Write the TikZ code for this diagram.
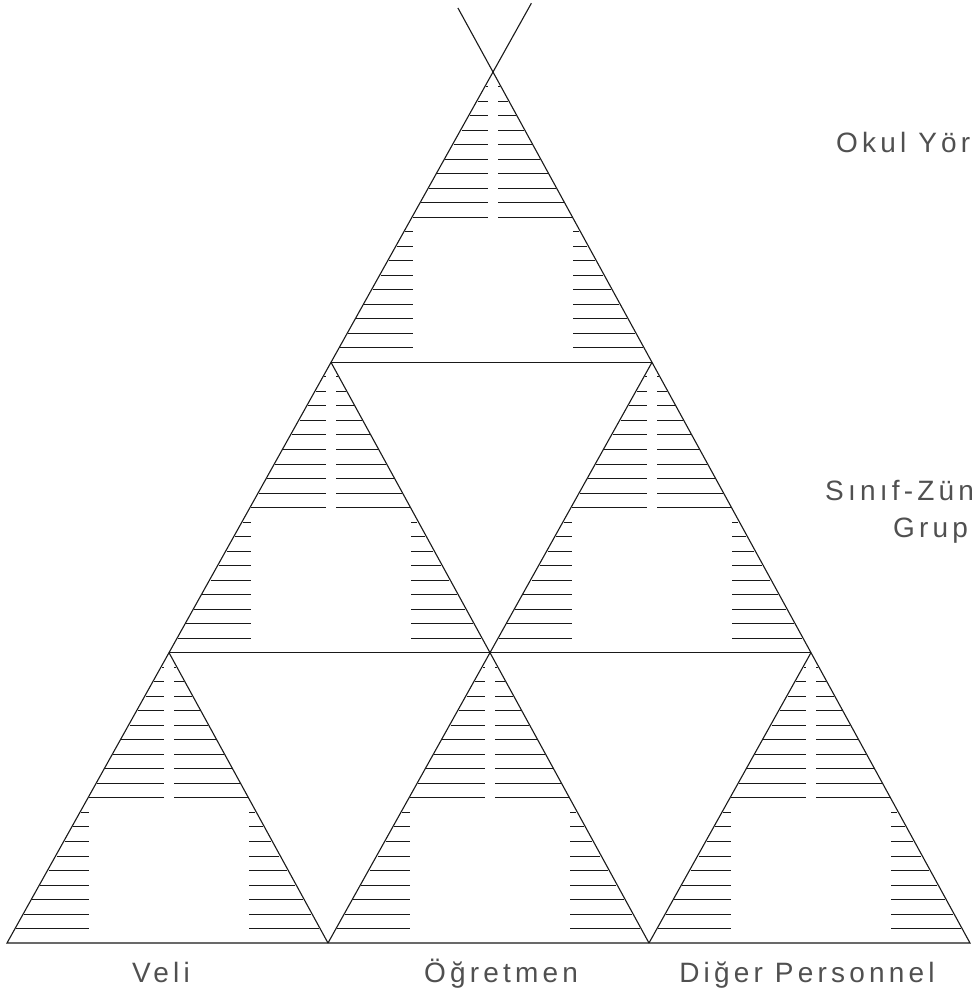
\documentclass[tikz,border=0pt]{standalone}
\usepackage{fontspec}
\usepackage{tikz}
\usetikzlibrary{calc}
\newfontfamily\labelfont[LetterSpace=15]{Liberation Sans}
\definecolor{ink}{RGB}{25, 25, 25}
\definecolor{print}{RGB}{80, 80, 80}

\begin{document}
\begin{tikzpicture}[x=1pt, y=-1pt,
    edge/.style={ink, line width=1.1pt},
    hatch/.style={ink, line width=0.8pt},
    lbl/.style={font=\labelfont\fontsize{28}{32}\selectfont, text=print, inner sep=0pt}]
  \useasboundingbox (0,0) rectangle (973,997);
  \coordinate (apex) at (493,72);
  \coordinate (bl) at (7,943);
  \coordinate (br) at (970,943);
  \coordinate (l1) at ($(apex)!1/3!(bl)$);
  \coordinate (l2) at ($(apex)!2/3!(bl)$);
  \coordinate (r1) at ($(apex)!1/3!(br)$);
  \coordinate (r2) at ($(apex)!2/3!(br)$);
  \coordinate (b1) at ($(bl)!1/3!(br)$);
  \coordinate (b2) at ($(bl)!2/3!(br)$);
  % outline, the two sides cross above the apex
  \draw[edge] ($(bl)!1.079!(apex)$) -- (bl) -- (br) -- ($(br)!1.0735!(apex)$);
  \draw[edge] (l1) -- (r1) (l2) -- (r2);
  \draw[edge] (l1) -- (b2) (l2) -- (b1) (r1) -- (b1) (r2) -- (b2);
  % hatching of the six upright triangles
  \foreach \cx/\ay in {493/72, 331/362.3, 652/362.3, 169/652.7, 490/652.7, 811/652.7}{
    \foreach \k in {1,...,10}{
      \pgfmathsetmacro\f{\k/20}
      \draw[hatch] ({\cx-162*\f+1},{\ay+290.3*\f}) -- ({\cx-5},{\ay+290.3*\f})
                   ({\cx+5},{\ay+290.3*\f}) -- ({\cx+159*\f-1},{\ay+290.3*\f});
    }
    \foreach \k in {11,...,19}{
      \pgfmathsetmacro\f{\k/20}
      \draw[hatch] ({\cx-162*\f+1},{\ay+290.3*\f}) -- ({\cx-80},{\ay+290.3*\f})
                   ({\cx+80},{\ay+290.3*\f}) -- ({\cx+159*\f-1},{\ay+290.3*\f});
    }
  }
  \node[lbl, anchor=base west] (okul) at (836,152) {Okul Yör};
  \node[lbl, anchor=base west] (sinif) at (825,500) {Sınıf-Zün};
  \node[lbl, anchor=base west] (grup) at (893,537) {Grup};
  \node[lbl, anchor=base] (veli) at (161,982) {Veli};
  \node[lbl, anchor=base] (ogretmen) at (501,982) {Öğretmen};
  \node[lbl, anchor=base] (diger) at (807,982) {Diğer Personnel};
\end{tikzpicture}
\end{document}
